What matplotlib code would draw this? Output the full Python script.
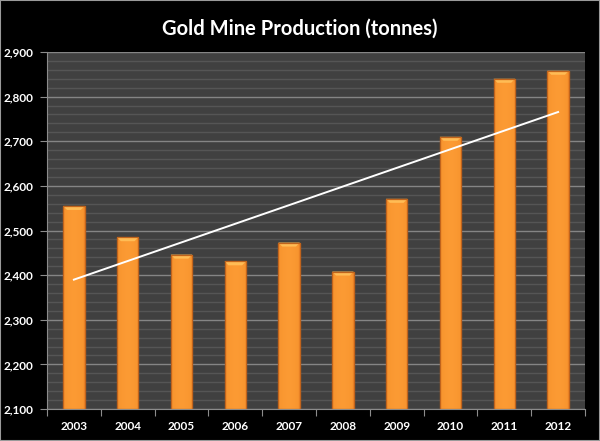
import numpy as np
import matplotlib
matplotlib.use('Agg')
import matplotlib.pyplot as plt
from matplotlib.patches import Polygon, Rectangle
from matplotlib.ticker import MultipleLocator, FuncFormatter

years = ['2003', '2004', '2005', '2006', '2007', '2008', '2009', '2010', '2011', '2012']
production = [2555, 2485, 2446, 2431, 2473, 2408, 2571, 2710, 2840, 2858]

plt.rcParams['font.family'] = ['Lato', 'DejaVu Sans']

fig = plt.figure(figsize=(6.0, 4.41), dpi=100, facecolor='black')
ax = fig.add_axes([47 / 600, 32 / 441, 538 / 600, 357 / 441])
ax.set_facecolor('#404040')

x = np.arange(len(years))
ax.set_xlim(-0.5, len(years) - 0.5)
ax.set_ylim(2100, 2900)

# grid: minor every 20, major every 100
ax.yaxis.set_major_locator(MultipleLocator(100))
ax.yaxis.set_minor_locator(MultipleLocator(20))
ax.grid(which='minor', axis='y', color='#555555', linewidth=1.0, zorder=0)
ax.grid(which='major', axis='y', color='#858585', linewidth=1.0, zorder=0)
ax.set_axisbelow(True)

width = 0.4
bars = ax.bar(x, production, width=width, color='#F7922E', edgecolor='#C86A1E',
              linewidth=0.8, zorder=2)

# soft horizontal gradient inside each bar + bevel at top
grad = np.linspace(0, 1, 64)
shade = 1 - np.abs(grad - 0.5) * 2
cmap = matplotlib.colors.LinearSegmentedColormap.from_list('og', ['#E97D22', '#F8952F', '#FC9B34'])
bevel_h = 9
for b in bars:
    x0, w, h = b.get_x(), b.get_width(), b.get_height()
    im = ax.imshow(shade[np.newaxis, :] ** 0.4, cmap=cmap, vmin=0, vmax=1, aspect='auto',
                   extent=(x0, x0 + w, 2100, h), zorder=2.1, interpolation='bilinear')
    im.set_clip_path(b)
    inset = w * 0.18
    bev = Polygon([(x0, h), (x0 + w, h), (x0 + w - inset, h - bevel_h), (x0 + inset, h - bevel_h)],
                  closed=True, facecolor='#FFBC55', edgecolor='none', zorder=2.2)
    ax.add_patch(bev)
    ax.add_patch(Rectangle((x0, 2100), w, h - 2100, fill=False, edgecolor='#C0631C',
                           linewidth=0.9, zorder=2.3))

# linear trendline
coef = np.polyfit(x, production, 1)
ax.plot(x, np.polyval(coef, x), color='white', linewidth=1.4, zorder=3)

for s in ['top', 'right']:
    ax.spines[s].set_visible(False)
for s in ['left', 'bottom']:
    ax.spines[s].set_color('#8c8c8c')

ax.set_xticks(np.arange(len(years) + 1) - 0.5, minor=False)
ax.set_xticklabels([])
ax.set_xticks(x, minor=True)
ax.set_xticklabels(years, minor=True)
ax.tick_params(axis='x', which='major', length=5, color='#8c8c8c', direction='out')
ax.tick_params(axis='x', which='minor', length=0, pad=9, labelsize=8.5, labelcolor='white')
ax.tick_params(axis='y', which='major', length=5, color='#8c8c8c', labelsize=8.5,
               labelcolor='white', pad=5)
ax.tick_params(axis='y', which='minor', length=0)
for lbl in ax.get_xticklabels(minor=True) + ax.get_yticklabels():
    lbl.set_fontweight('bold')
ax.yaxis.set_major_formatter(FuncFormatter(lambda v, p: f'{int(v):,}'))

fig.text(0.5, 1 - 29 / 441, 'Gold Mine Production (tonnes)', color='white', fontsize=14.5,
         fontweight='bold', ha='center', va='center')

fig.patches.append(Rectangle((0, 0), 1, 1, transform=fig.transFigure, fill=False,
                             edgecolor='#9a9a9a', linewidth=1.5))

fig.savefig('out.png', dpi=100, facecolor='black')
